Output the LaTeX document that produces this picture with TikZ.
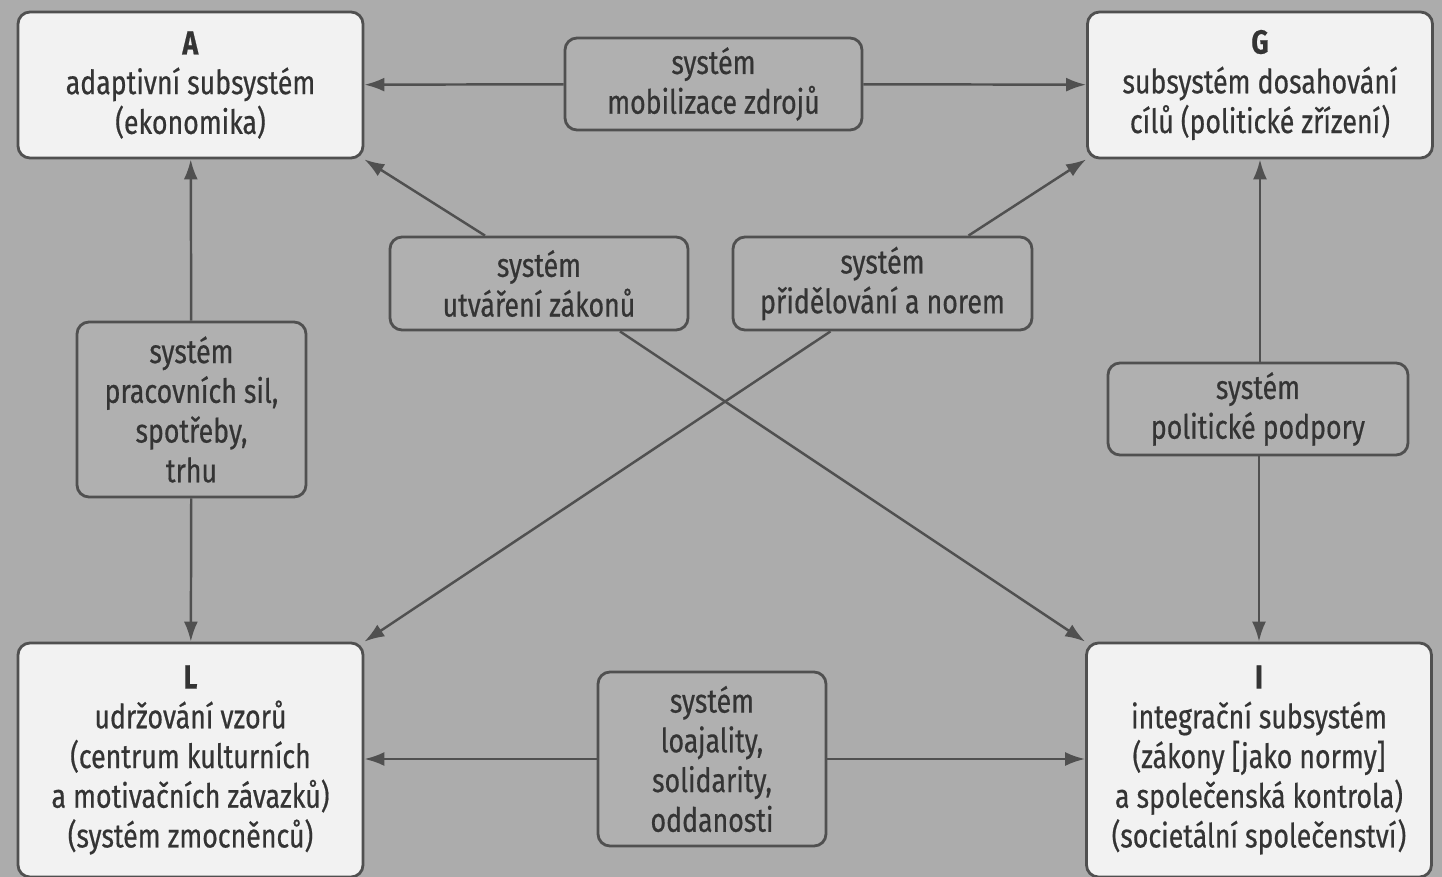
\documentclass[tikz,border=0pt]{standalone}
\usepackage{fontspec}
\setsansfont{Fira Sans}[FakeStretch=0.80, FakeBold=0.5]
\usepackage{tikz}
\usetikzlibrary{arrows.meta, positioning, calc}

\definecolor{paper}{RGB}{172,172,172}
\definecolor{boxwhite}{RGB}{242,242,242}
\definecolor{boxgray}{RGB}{176,176,176}
\definecolor{inkgray}{RGB}{52,52,52}
\definecolor{edgegray}{RGB}{80,80,80}

\begin{document}
\begin{tikzpicture}[
    >={Latex[length=2.0mm,width=1.4mm]}, % filled tips
    % the four AGIL subsystems
    subsys/.style={rectangle, rounded corners=1.2mm, draw=edgegray, line width=0.8pt,
        fill=boxwhite, text=inkgray, align=center, inner sep=0pt,
        minimum width=3.45cm, font=\sffamily\fontsize{9.5}{11.3}\selectfont},
    % the exchange systems between them
    sysbox/.style={rectangle, rounded corners=1.2mm, draw=edgegray, line width=0.8pt,
        fill=boxgray, text=inkgray, align=center, inner sep=0pt,
        font=\sffamily\fontsize{9.5}{11.3}\selectfont},
    link/.style={->, draw=edgegray, line width=0.7pt}
]
\fill[paper] (0,0) rectangle (14.42,-8.77);
\useasboundingbox (0,0) rectangle (14.42,-8.77);

% 1. subsystems in the corners
\node [subsys, minimum height=1.46cm] (A) at (1.905,-0.85) {\textbf{A}\\adaptivní subsystém\\(ekonomika)};
\node [subsys, minimum height=1.46cm] (G) at (12.60,-0.85) {\textbf{G}\\subsystém dosahování\\cílů (politické zřízení)};
\node [subsys, minimum height=2.34cm] (L) at (1.905,-7.60) {\textbf{L}\\udržování vzorů\\(centrum kulturních\\a motivačních závazků)\\(systém zmocněnců)};
\node [subsys, minimum height=2.34cm] (I) at (12.59,-7.60) {\textbf{I}\\integrační subsystém\\(zákony [jako normy]\\a společenská kontrola)\\(societální společenství)};

% 2. exchange systems
\node [sysbox, minimum width=2.97cm, minimum height=0.92cm] (mobil) at (7.135,-0.84) {systém\\mobilizace zdrojů};
\node [sysbox, minimum width=2.98cm, minimum height=0.93cm] (zakony) at (5.39,-2.835) {systém\\utváření zákonů};
\node [sysbox, minimum width=2.99cm, minimum height=0.93cm] (normy) at (8.825,-2.835) {systém\\přidělování a norem};
\node [sysbox, minimum width=2.29cm, minimum height=1.75cm] (trh) at (1.915,-4.095) {systém\\pracovních sil,\\spotřeby,\\trhu};
\node [sysbox, minimum width=3.00cm, minimum height=0.92cm] (podpora) at (12.58,-4.09) {systém\\politické podpory};
\node [sysbox, minimum width=2.28cm, minimum height=1.74cm] (loaj) at (7.12,-7.59) {systém\\loajality,\\solidarity,\\oddanosti};

% 3. arrows
\draw [link] (mobil) -- (A);
\draw [link] (mobil) -- (G);
\draw [link] (trh) -- (A);
\draw [link] (trh) -- (L);
\draw [link] (podpora.north -| G.south) -- (G.south);
\draw [link] (podpora.south -| I.north) -- (I.north);
\draw [link] (loaj.west) -- (loaj.west -| L.east);
\draw [link] (loaj.east) -- (loaj.east -| I.west);
% diagonals crossing in the middle
\draw [link] ($(zakony.north)+(-0.54,0)$) -- (A.south east);
\draw [link] ($(zakony.south)+(0.81,0)$) -- (I.north west);
\draw [link] ($(normy.north)+(0.86,0)$) -- (G.south west);
\draw [link] ($(normy.south)+(-0.52,0)$) -- (L.north east);

\end{tikzpicture}
\end{document}
